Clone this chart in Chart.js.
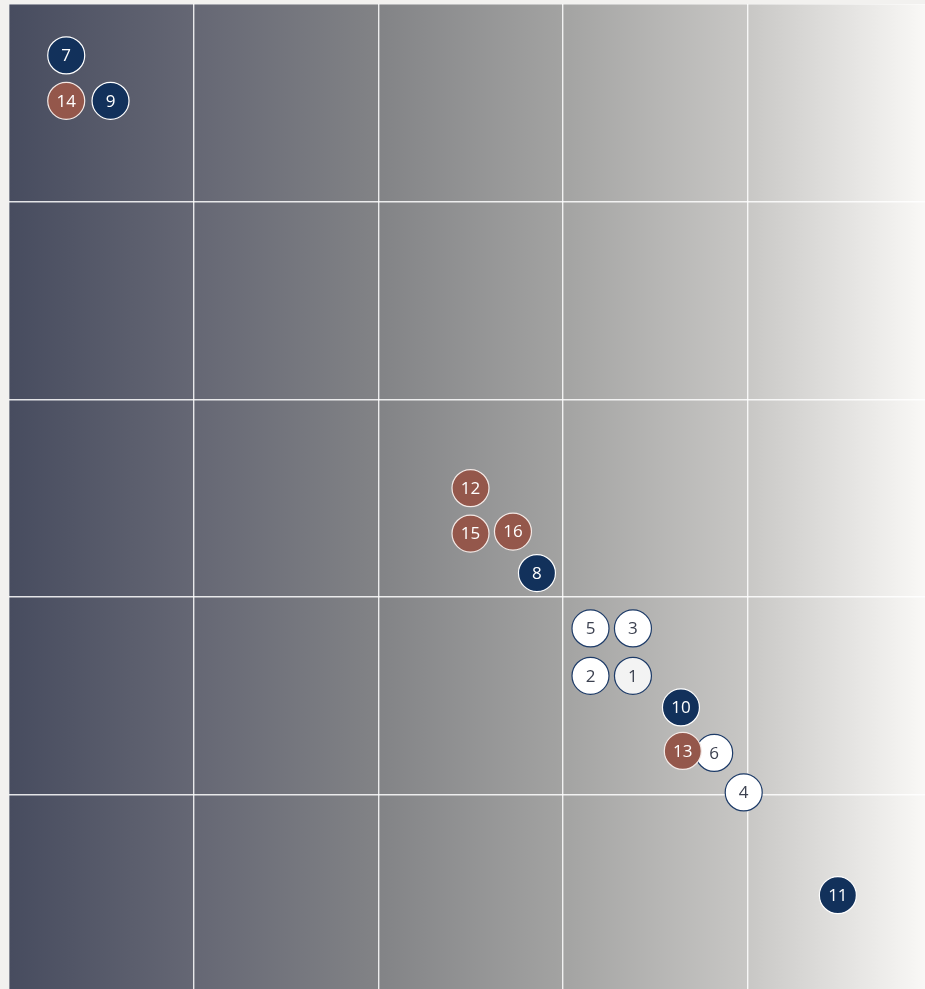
<!DOCTYPE html>
<html>
<head>
<meta charset="utf-8">
<script src="https://cdn.jsdelivr.net/npm/chart.js@4.4.1/dist/chart.umd.min.js"></script>
<style>
  html, body { margin: 0; padding: 0; background: #f2f1ef; overflow: hidden; }
  #wrap { position: absolute; left: 9px; top: 4px; width: 923px; height: 988px; }
</style>
</head>
<body>
<div id="wrap"><canvas id="chart"></canvas></div>
<script>
// bubble numbers, positions and colour group
const ids    = [1, 2, 3, 4, 5, 6, 7, 8, 9, 10, 11, 12, 13, 14, 15, 16];
const xVals  = [3.38, 3.15, 3.38, 3.98, 3.15, 3.82, 0.31, 2.86, 0.55, 3.64, 4.49, 2.50, 3.65, 0.31, 2.50, 2.73];
const yVals  = [1.60, 1.60, 1.84, 1.01, 1.84, 1.21, 4.74, 2.12, 4.51, 1.44, 0.49, 2.55, 1.22, 4.51, 2.32, 2.33];
const groups = ['open', 'open', 'open', 'open', 'open', 'open', 'navy', 'navy', 'navy', 'navy', 'navy', 'rust', 'rust', 'rust', 'rust', 'rust'];
const gridTicks = [0, 1, 2, 3, 4, 5];

const styles = {
    navy: { fill: '#12315b', border: '#ffffff', text: '#ffffff' },
    rust: { fill: '#94574b', border: '#f3e9e6', text: '#ffffff' },
    open: { fill: '#ffffff', border: '#1d3b68', text: '#3c4150' }
};

// navy first, then rust, white bubbles on top (6 sits over 13)
const datasets = ['navy', 'rust', 'open'].map(g => {
    const idx = ids.map((_, i) => i).filter(i => groups[i] === g);
    return {
        label: g,
        data: idx.map(i => ({ x: xVals[i], y: yVals[i], id: ids[i] })),
        backgroundColor: idx.map(i => ids[i] === 1 ? '#f3f3f3' : styles[g].fill),
        borderColor: styles[g].border,
        borderWidth: 1.2,
        pointRadius: 18.5,
        pointHoverRadius: 18.5
    };
});

const bgPlugin = {
    id: 'bg',
    beforeDraw(chart) {
        const { ctx, chartArea: a } = chart;
        const g = ctx.createLinearGradient(a.left, 0, a.right, 0);
        g.addColorStop(0, '#474c5f');
        g.addColorStop(0.2, '#656774');
        g.addColorStop(0.4, '#828386');
        g.addColorStop(0.6, '#a3a3a2');
        g.addColorStop(0.8, '#c8c7c5');
        g.addColorStop(1, '#fbfaf8');
        ctx.save();
        ctx.fillStyle = g;
        ctx.fillRect(a.left, a.top, a.right - a.left, a.bottom - a.top);
        ctx.restore();
    }
};

const labelPlugin = {
    id: 'labels',
    afterDatasetDraw(chart, args) {
        const { ctx } = chart;
        const ds = chart.data.datasets[args.index];
        const meta = chart.getDatasetMeta(args.index);
        ctx.save();
        ctx.font = '17px "Open Sans"';
        ctx.textAlign = 'center';
        ctx.textBaseline = 'middle';
        ctx.fillStyle = styles[ds.label].text;
        meta.data.forEach((pt, i) => {
            ctx.fillText(String(ds.data[i].id), pt.x, pt.y + 1);
        });
        ctx.restore();
    }
};

const axisOpts = (min, max) => ({
    type: 'linear', min: min, max: max,
    afterBuildTicks: s => { s.ticks = gridTicks.map(v => ({ value: v })); },
    ticks: { display: false },
    border: { display: false },
    grid: { color: 'rgba(255,255,255,0.85)', lineWidth: 1.4, drawTicks: false }
});

new Chart(document.getElementById('chart'), {
    type: 'scatter',
    data: { datasets: datasets },
    options: {
        responsive: true,
        maintainAspectRatio: false,
        animation: false,
        layout: { padding: 0, autoPadding: false },
        plugins: { legend: { display: false }, tooltip: { enabled: false } },
        scales: { x: axisOpts(0, 5), y: axisOpts(0, 5) }
    },
    plugins: [bgPlugin, labelPlugin]
});
</script>
</body>
</html>
